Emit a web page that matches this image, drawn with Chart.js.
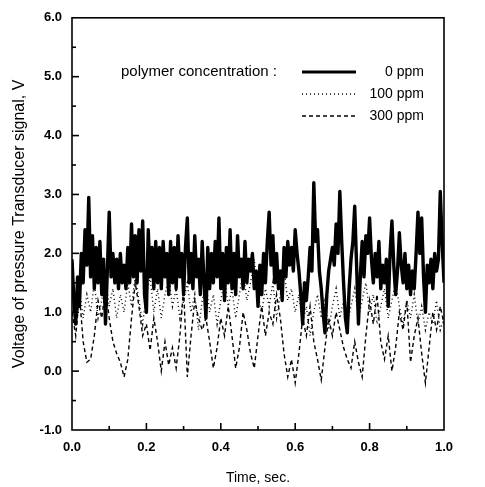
<!DOCTYPE html>
<html>
<head>
<meta charset="utf-8">
<script src="https://cdn.jsdelivr.net/npm/chart.js@4"></script>
<style>
  body { margin: 0; background: #fff; }
</style>
</head>
<body>
<canvas id="chart" width="485" height="487"></canvas>
<script>
// time axis, sec
const tFine = [];   // 0 ppm sampled every 0.005 s
for (let i = 0; i <= 200; i++) tFine.push(+(i * 0.005).toFixed(3));
const tCoarse = []; // 100 / 300 ppm sampled every 0.01 s
for (let i = 0; i <= 100; i++) tCoarse.push(+(i * 0.01).toFixed(2));

const seriesNames = ['0 ppm', '100 ppm', '300 ppm'];

const ppm0 = [
  1.9, 1.2, 0.8, 1.6, 1.1, 2.0, 1.5, 2.4, 1.8, 2.95,
  1.6, 2.3, 1.4, 2.1, 1.5, 2.2, 1.3, 1.9, 0.8, 1.7,
  2.7, 1.6, 2.0, 1.5, 1.9, 1.4, 2.0, 1.5, 1.8, 1.4,
  2.1, 1.5, 2.5, 1.6, 2.3, 1.5, 2.4, 1.7, 2.55, 1.3,
  1.0, 2.4, 1.6, 2.1, 1.4, 2.2, 1.5, 2.1, 1.4, 2.2,
  1.6, 2.0, 1.3, 2.2, 1.5, 2.1, 1.4, 2.3, 1.6, 2.0,
  1.3, 2.1, 2.6, 1.5, 2.0, 1.4, 2.3, 1.6, 1.9, 1.3,
  2.2, 1.5, 0.9, 2.1, 1.4, 2.0, 1.5, 2.2, 1.6, 2.6,
  1.4, 2.0, 1.2, 2.1, 1.5, 2.4, 1.4, 2.0, 1.3, 2.3,
  1.6, 1.9, 1.4, 2.2, 1.5, 1.9, 1.7, 2.0, 1.4, 1.7,
  1.1, 1.8, 1.3, 2.0, 1.5, 2.2, 2.7, 1.8, 2.3, 1.5,
  2.0, 1.4, 1.7, 1.2, 2.1, 1.6, 2.2, 1.8, 2.1, 1.7,
  2.4, 2.0, 1.7, 1.3, 0.8, 1.5, 1.2, 1.6, 2.1, 1.7,
  3.2, 2.2, 2.4, 1.7, 1.4, 1.0, 0.65, 1.3, 1.7, 1.9,
  2.1, 1.8, 2.5, 2.0, 3.05, 2.2, 1.5, 0.9, 0.65, 1.4,
  1.9, 2.2, 2.8, 1.8, 0.8, 1.6, 2.2, 1.6, 2.3, 2.0,
  2.6, 1.9, 1.5, 2.0, 1.6, 2.2, 1.4, 1.8, 1.5, 1.9,
  1.1, 2.0, 2.55, 1.8, 1.3, 1.7, 2.35, 1.8, 1.5, 2.0,
  1.4, 1.8, 1.3, 1.7, 1.4, 2.0, 2.7, 2.0, 2.6, 1.6,
  1.0, 1.8, 1.5, 1.9, 1.4, 2.0, 1.7, 1.9, 3.05, 2.2,
  1.5
];

const ppm100 = [
  1.6, 1.0, 1.4, 0.9, 1.3, 1.0, 1.5, 0.9, 1.2, 1.6,
  1.1, 1.4, 0.9, 1.3, 1.0, 1.5, 1.1, 1.6, 1.2, 0.8,
  1.3, 1.6, 1.0, 1.4, 0.9, 1.3, 1.6, 1.1, 1.4, 0.9,
  1.2, 1.5, 1.0, 1.3, 0.7, 1.2, 1.5, 1.0, 1.3, 0.8,
  1.2, 1.6, 1.1, 1.4, 0.9, 1.3, 1.7, 1.2, 1.5, 1.9,
  1.3, 1.0, 1.4, 1.1, 1.5, 0.9, 1.3, 1.7, 1.2, 1.4,
  1.0, 1.3, 0.8, 1.1, 0.6, 1.0, 1.3, 0.9, 1.2, 0.7,
  1.1, 1.4, 0.9, 1.2, 0.8, 1.1, 1.4, 0.9, 1.2, 1.5,
  1.0, 1.3, 0.8, 1.1, 1.4, 0.9, 1.2, 1.5, 1.1, 0.8,
  1.2, 0.9, 1.3, 0.8, 1.1, 0.7, 1.0, 0.8, 1.2, 0.7,
  0.9
];

const ppm300 = [
  1.0, 0.6, 1.3, 0.5, 0.15, 0.2, 0.6, 1.2, 0.9, 1.4,
  0.9, 0.5, 0.3, 0.15, -0.1, 0.2, 0.9, 1.5, 1.1, 0.6,
  0.8, 0.35, 0.9, 0.5, 0.0, 0.5, 0.1, 0.4, 0.05, 0.6,
  1.4, -0.1, 0.6, 1.2, 0.9, 0.7, 0.9, 0.5, 0.05, 0.4,
  0.9, 0.6, 1.1, 0.6, 0.05, 0.4, 1.0, 0.7, 0.3, 0.05,
  0.6, 1.1, 0.6, 1.0, 0.8, 1.3, 0.9, 0.3, -0.1, 0.2,
  -0.2, 0.3, 0.9, 0.6, 1.1, 0.5, 0.2, -0.15, 0.4, 0.9,
  0.6, 1.0, 0.7, 0.4, 0.2, 0.05, 0.5, 0.15, -0.1, 0.6,
  1.2, 0.8, 1.3, 0.5, 0.2, 0.6, 0.0, 0.4, 1.0, 0.7,
  1.2, 0.15, 0.6, 0.9, 0.3, -0.2, 0.4, 1.0, 0.7, 1.1,
  0.8
];

const FONT = '"Liberation Sans", Arial, sans-serif';

// frame, inward ticks and the legend block
const framePlugin = {
  id: 'frame',
  afterDraw(chart) {
    const ctx = chart.ctx;
    const a = chart.chartArea;
    const xs = chart.scales.x, ys = chart.scales.y;
    ctx.save();
    ctx.strokeStyle = '#000';
    ctx.lineWidth = 1.6;
    ctx.strokeRect(a.left, a.top, a.right - a.left, a.bottom - a.top);

    ctx.lineWidth = 1.6;
    for (let i = 1; i < 10; i++) {
      const v = i / 10;
      const px = xs.getPixelForValue(v);
      const len = (i % 2 === 0) ? 7 : 4;
      ctx.beginPath();
      ctx.moveTo(px, a.bottom);
      ctx.lineTo(px, a.bottom - len);
      ctx.stroke();
    }
    for (let i = 1; i < 14; i++) {
      const v = -1 + i * 0.5;
      const py = ys.getPixelForValue(v);
      const len = (i % 2 === 0) ? 7 : 4;
      ctx.beginPath();
      ctx.moveTo(a.left, py);
      ctx.lineTo(a.left + len, py);
      ctx.stroke();
    }

    // legend
    ctx.fillStyle = '#000';
    ctx.textBaseline = 'middle';
    ctx.textAlign = 'left';
    ctx.font = '15px ' + FONT;
    ctx.fillText('polymer concentration :', 121, 72);
    ctx.font = '14px ' + FONT;
    chart.data.datasets.forEach((ds, i) => {
      const y = 72 + i * 22;
      ctx.beginPath();
      ctx.lineWidth = i === 0 ? 3 : 1.3;
      ctx.setLineDash(ds.borderDash || []);
      ctx.moveTo(302, y);
      ctx.lineTo(356, y);
      ctx.stroke();
      ctx.setLineDash([]);
      ctx.textAlign = 'right';
      ctx.fillText(ds.label, 424, y);
    });
    ctx.restore();
  }
};

new Chart(document.getElementById('chart'), {
  type: 'line',
  data: {
    datasets: [
      {
        label: seriesNames[0],
        data: tFine.map((t, i) => ({ x: t, y: ppm0[i] })),
        borderColor: '#000',
        borderWidth: 3.4,
        borderJoinStyle: 'round',
        pointRadius: 0,
        tension: 0
      },
      {
        label: seriesNames[1],
        data: tCoarse.map((t, i) => ({ x: t, y: ppm100[i] })),
        borderColor: '#000',
        borderWidth: 1.4,
        borderDash: [1, 3],
        pointRadius: 0,
        tension: 0
      },
      {
        label: seriesNames[2],
        data: tCoarse.map((t, i) => ({ x: t, y: ppm300[i] })),
        borderColor: '#000',
        borderWidth: 1.4,
        borderDash: [4, 3],
        pointRadius: 0,
        tension: 0
      }
    ]
  },
  options: {
    responsive: false,
    animation: false,
    layout: { padding: { left: 10, top: 14, right: 41, bottom: 0 } },
    plugins: {
      legend: { display: false },
      tooltip: { enabled: false }
    },
    scales: {
      x: {
        type: 'linear',
        min: 0,
        max: 1,
        grid: { display: false, drawTicks: false },
        border: { display: false },
        ticks: {
          stepSize: 0.2,
          padding: 10,
          color: '#000',
          font: { family: FONT, size: 13, weight: 'bold' },
          callback: v => v.toFixed(1)
        },
        title: {
          display: true,
          text: 'Time, sec.',
          color: '#000',
          font: { family: FONT, size: 14 },
          padding: { top: 12, bottom: 0 }
        },
        afterFit: s => { s.height = 57; }
      },
      y: {
        min: -1,
        max: 6,
        grid: { display: false, drawTicks: false },
        border: { display: false },
        ticks: {
          stepSize: 1,
          padding: 10,
          color: '#000',
          font: { family: FONT, size: 13, weight: 'bold' },
          callback: v => v.toFixed(1)
        },
        title: {
          display: true,
          text: 'Voltage of pressure Transducer signal, V',
          color: '#000',
          font: { family: FONT, size: 16 },
          padding: { top: 0, bottom: 2 }
        },
        afterFit: s => { s.width = 62; }
      }
    }
  },
  plugins: [framePlugin]
});
</script>
</body>
</html>
